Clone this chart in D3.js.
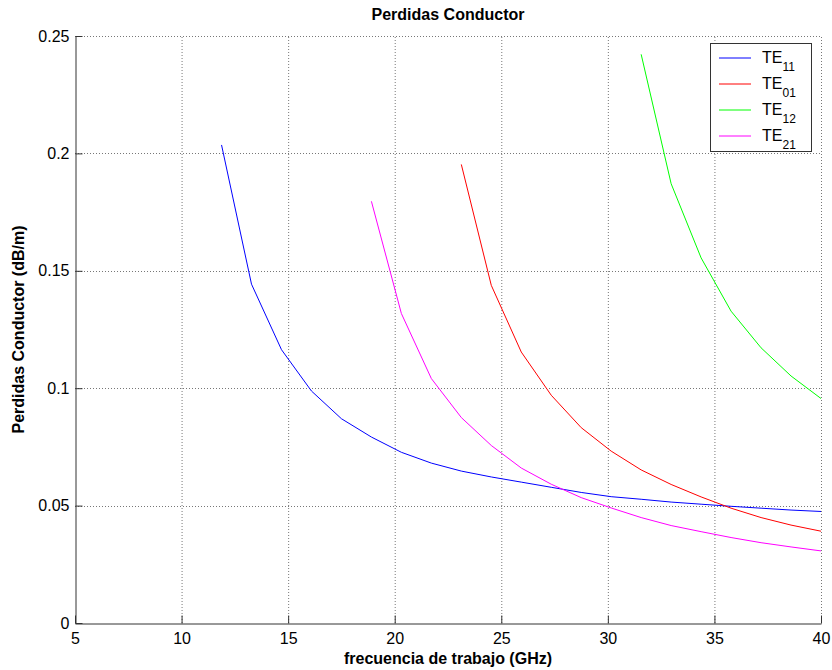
<!DOCTYPE html>
<html><head><meta charset="utf-8">
<script src="https://cdn.jsdelivr.net/npm/d3@7"></script>
<style>
html,body{margin:0;padding:0;background:#fff;}
text{font-family:"Liberation Sans",Arial,Helvetica,sans-serif;}
</style>
</head><body>
<svg id="chart" width="832" height="670"></svg>
<script>
// ---- data ----
const freqTE11 = [11.875,13.281,14.688,16.094,17.5,18.906,20.313,21.719,23.125,24.531,25.938,27.344,28.75,30.156,31.563,32.969,34.375,35.781,37.188,38.594,40];
const valTE11  = [0.2036,0.1443,0.1164,0.0988,0.0870,0.0792,0.0727,0.0681,0.0647,0.0622,0.0600,0.0578,0.0556,0.0538,0.0527,0.0515,0.0506,0.0497,0.0489,0.0481,0.0475];

const freqTE01 = [23.125,24.531,25.938,27.344,28.75,30.156,31.563,32.969,34.375,35.781,37.188,38.594,40];
const valTE01  = [0.1953,0.1438,0.1154,0.0970,0.0832,0.0732,0.0652,0.0590,0.0537,0.0489,0.0449,0.0417,0.0391];

const freqTE12 = [31.563,32.969,34.375,35.781,37.188,38.594,40];
const valTE12  = [0.2422,0.1871,0.1555,0.1328,0.1172,0.1052,0.0956];

const freqTE21 = [18.906,20.313,21.719,23.125,24.531,25.938,27.344,28.75,30.156,31.563,32.969,34.375,35.781,37.188,38.594,40];
const valTE21  = [0.1796,0.1318,0.1041,0.0875,0.0756,0.0660,0.0591,0.0534,0.0490,0.0449,0.0415,0.0389,0.0364,0.0342,0.0324,0.0307];

const seriesNames  = ["TE|11","TE|01","TE|12","TE|21"];
const seriesColors = ["#0000ff","#ff0000","#00ff00","#ff00ff"];

const xTicks = [5,10,15,20,25,30,35,40];
const yTicks = [0,0.05,0.1,0.15,0.2,0.25];
const yTickLabels = ["0","0.05","0.1","0.15","0.2","0.25"];

const titleText = "Perdidas Conductor";
const xLabelText = "frecuencia de trabajo (GHz)";
const yLabelText = "Perdidas Conductor (dB/m)";

// ---- layout ----
const margin = {left:75, top:36, right:11, bottom:47};
const W = 832, H = 670;
const svg = d3.select("#chart");
const x = d3.scaleLinear().domain([5,40]).range([margin.left, W - margin.right]);
const y = d3.scaleLinear().domain([0,0.25]).range([H - margin.bottom, margin.top]);

const series = [
  {name:seriesNames[0], color:seriesColors[0], pts:freqTE11.map((f,i)=>[f,valTE11[i]])},
  {name:seriesNames[1], color:seriesColors[1], pts:freqTE01.map((f,i)=>[f,valTE01[i]])},
  {name:seriesNames[2], color:seriesColors[2], pts:freqTE12.map((f,i)=>[f,valTE12[i]])},
  {name:seriesNames[3], color:seriesColors[3], pts:freqTE21.map((f,i)=>[f,valTE21[i]])}
];

// grid
const grid = svg.append("g");
grid.selectAll("line.gx").data(xTicks.slice(1)).join("line")
  .attr("x1",d=>x(d)+0.5).attr("x2",d=>x(d)+0.5)
  .attr("y1",y(0)).attr("y2",y(0.25))
  .attr("stroke","#777").attr("stroke-width",1).attr("stroke-dasharray","1,2");
grid.selectAll("line.gy").data(yTicks.slice(1)).join("line")
  .attr("y1",d=>Math.round(y(d))+0.5).attr("y2",d=>Math.round(y(d))+0.5)
  .attr("x1",x(5)).attr("x2",x(40))
  .attr("stroke","#777").attr("stroke-width",1).attr("stroke-dasharray","1,2");

// axes (inward ticks, MATLAB style)
const xAxis = d3.axisBottom(x).tickValues(xTicks).tickSizeInner(-8).tickSizeOuter(0).tickPadding(9).tickFormat(d3.format("d"));
const gx = svg.append("g").attr("transform",`translate(0,${Math.round(y(0))+0.5})`).call(xAxis);
gx.select(".domain").attr("stroke","#333");
gx.selectAll(".tick line").attr("stroke","#333");
gx.selectAll(".tick text").attr("font-size",16).attr("fill","#000");

const yAxis = d3.axisLeft(y).tickValues(yTicks).tickSizeInner(-7).tickSizeOuter(0).tickPadding(6)
  .tickFormat((d,i)=>yTickLabels[i]);
const gy = svg.append("g").attr("transform",`translate(${x(5)+0.5},0)`).call(yAxis);
gy.select(".domain").attr("stroke","#333");
gy.selectAll(".tick line").attr("stroke","#333");
gy.selectAll(".tick text").attr("font-size",16).attr("fill","#000");

// lines
const line = d3.line().x(d=>x(d[0])).y(d=>y(d[1]));
svg.append("g").selectAll("path").data(series).join("path")
  .attr("d",d=>line(d.pts)).attr("fill","none")
  .attr("stroke",d=>d.color).attr("stroke-width",1);

// title & labels
svg.append("text").attr("x",(x(5)+x(40))/2).attr("y",20).attr("text-anchor","middle")
  .attr("font-size",16).attr("font-weight","bold").text(titleText);
svg.append("text").attr("x",(x(5)+x(40))/2).attr("y",664).attr("text-anchor","middle")
  .attr("font-size",16).attr("font-weight","bold").text(xLabelText);
svg.append("text").attr("transform",`translate(24,${(y(0)+y(0.25))/2}) rotate(-90)`)
  .attr("text-anchor","middle").attr("font-size",16).attr("font-weight","bold").text(yLabelText);

// legend
const lg = svg.append("g");
lg.append("rect").attr("x",710.5).attr("y",43.5).attr("width",101).attr("height",108)
  .attr("fill","#fff").attr("stroke","#333").attr("stroke-width",1);
const items = lg.selectAll("g.item").data(series).join("g")
  .attr("transform",(d,i)=>`translate(0,${58 + i*26})`);
items.append("line").attr("x1",719).attr("x2",751).attr("y1",0).attr("y2",0)
  .attr("stroke",d=>d.color).attr("stroke-width",1);
const t = items.append("text").attr("x",762).attr("y",5).attr("font-size",16);
t.append("tspan").text(d=>d.name.split("|")[0]);
t.append("tspan").attr("font-size",12).attr("dy",8).text(d=>d.name.split("|")[1]);
</script>
</body></html>
